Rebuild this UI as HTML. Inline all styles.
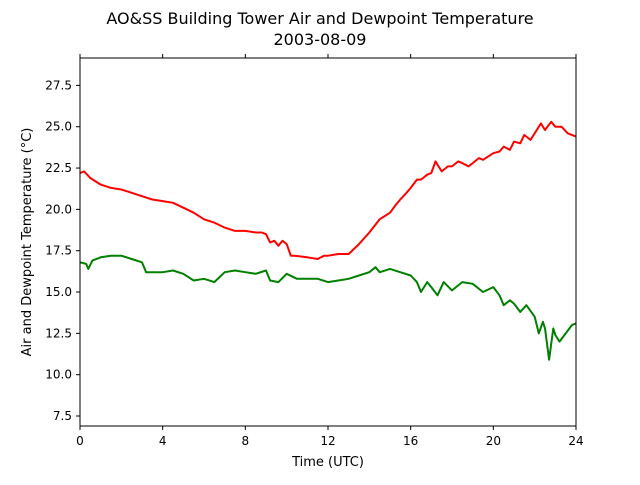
<!DOCTYPE html>
<html><head><meta charset="utf-8"><style>
body{margin:0;background:#fff;width:640px;height:480px;overflow:hidden;font-family:"Liberation Sans","DejaVu Sans",sans-serif}
text{font-family:"DejaVu Sans","Liberation Sans",sans-serif}
</style></head><body>
<svg id="chart" width="640" height="480" xmlns="http://www.w3.org/2000/svg">
<text x="320" y="24" text-anchor="middle" font-size="16">AO&amp;SS Building Tower Air and Dewpoint Temperature</text>
<text x="320" y="45" text-anchor="middle" font-size="16">2003-08-09</text>
<g id="ticks"></g>
<g id="series"></g>
<rect x="80" y="58" width="496" height="368" fill="none" stroke="#000" stroke-width="1"/>
<text x="328" y="466" text-anchor="middle" font-size="13">Time (UTC)</text>
<text transform="translate(31,242) rotate(-90)" text-anchor="middle" font-size="13">Air and Dewpoint Temperature (°C)</text>
</svg>
<script>
const airHours=[0,0.2,0.5,1,1.5,2,2.5,3,3.5,4,4.5,5,5.5,6,6.5,7,7.5,8,8.5,8.8,9,9.2,9.4,9.6,9.8,10,10.2,10.4,11,11.5,11.8,12,12.5,13,13.5,14,14.5,15,15.3,15.5,15.8,16,16.3,16.5,16.8,17,17.2,17.5,17.8,18,18.3,18.5,18.8,19,19.3,19.5,20,20.3,20.5,20.8,21,21.3,21.5,21.8,22,22.3,22.5,22.8,23,23.3,23.6,24];
const airValues=[22.2,22.3,21.9,21.5,21.3,21.2,21.0,20.8,20.6,20.5,20.4,20.1,19.8,19.4,19.2,18.9,18.7,18.7,18.6,18.6,18.5,18.0,18.1,17.8,18.1,17.9,17.2,17.2,17.1,17.0,17.2,17.2,17.3,17.3,17.9,18.6,19.4,19.8,20.3,20.6,21.0,21.3,21.8,21.8,22.1,22.2,22.9,22.3,22.6,22.6,22.9,22.8,22.6,22.8,23.1,23.0,23.4,23.5,23.8,23.6,24.1,24.0,24.5,24.2,24.6,25.2,24.8,25.3,25.0,25.0,24.6,24.4];
const dewHours=[0,0.3,0.4,0.6,1,1.5,2,2.5,3,3.2,4,4.5,5,5.5,6,6.5,7,7.5,8,8.5,9,9.2,9.6,10,10.5,11,11.5,12,12.5,13,13.5,14,14.3,14.5,15,15.5,16,16.3,16.5,16.8,17,17.3,17.6,18,18.3,18.5,19,19.5,20,20.3,20.5,20.8,21,21.3,21.6,22,22.2,22.4,22.5,22.7,22.9,23,23.2,23.5,23.8,24];
const dewValues=[16.8,16.7,16.4,16.9,17.1,17.2,17.2,17.0,16.8,16.2,16.2,16.3,16.1,15.7,15.8,15.6,16.2,16.3,16.2,16.1,16.3,15.7,15.6,16.1,15.8,15.8,15.8,15.6,15.7,15.8,16.0,16.2,16.5,16.2,16.4,16.2,16.0,15.6,15.0,15.6,15.3,14.8,15.6,15.1,15.4,15.6,15.5,15.0,15.3,14.8,14.2,14.5,14.3,13.8,14.2,13.5,12.5,13.2,12.8,10.9,12.8,12.4,12.0,12.5,13.0,13.1];
const xTicks=[0,4,8,12,16,20,24];
const yTicks=[7.5,10.0,12.5,15.0,17.5,20.0,22.5,25.0,27.5];
const X=h=>80+h/24*496;
const Y=v=>416-(v-7.5)*16.53;
const NS="http://www.w3.org/2000/svg";
const tg=document.getElementById('ticks');
function mk(tag,attrs,parent){const e=document.createElementNS(NS,tag);for(const k in attrs)e.setAttribute(k,attrs[k]);parent.appendChild(e);return e;}
xTicks.forEach(t=>{
  const l=mk('line',{x1:X(t),x2:X(t),y1:426,y2:430,stroke:'#000'},tg);
  
  
  const l2=mk('line',{x1:X(t),x2:X(t),y1:58,y2:54,stroke:'#000'},tg);
  
  
  const tx=mk('text',{x:X(t),y:445,'text-anchor':'middle','font-size':'12'},tg);
  tx.textContent=t;
  
  
});
yTicks.forEach(t=>{
  const l=mk('line',{x1:76,x2:80,y1:Y(t),y2:Y(t),stroke:'#000'},tg);
  
  
  const tx=mk('text',{x:72,y:Y(t)+4,'text-anchor':'end','font-size':'12'},tg);
  tx.textContent=t.toFixed(1);
  
  
});
const sg=document.getElementById('series');
function line(hs,vs,color,name){
  const d=hs.map((h,i)=>(i?'L':'M')+X(h).toFixed(1)+' '+Y(vs[i]).toFixed(1)).join(' ');
  const p=mk('path',{d:d,fill:'none',stroke:color,'stroke-width':'2','stroke-linejoin':'round'},sg);
  
  
}
line(airHours,airValues,'#ff0000','air-temperature-line');
line(dewHours,dewValues,'#008000','dewpoint-temperature-line');
</script>
</body></html>
